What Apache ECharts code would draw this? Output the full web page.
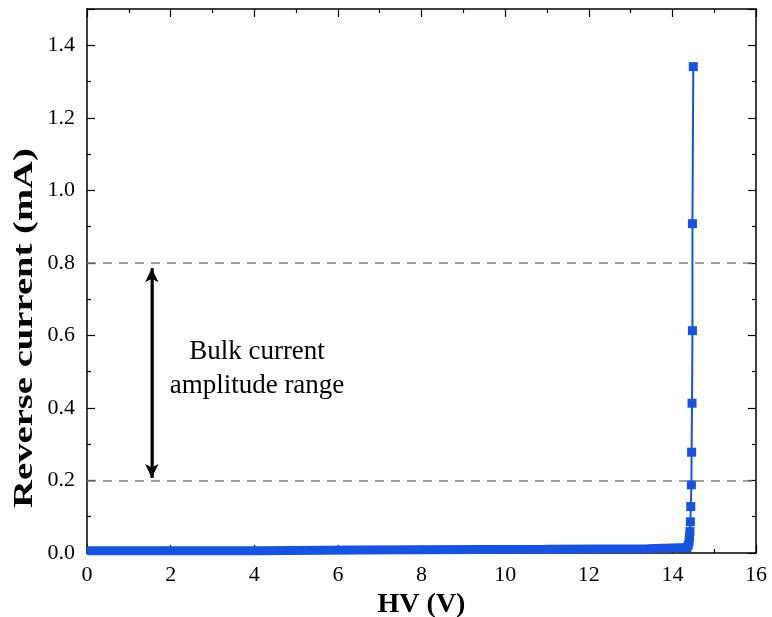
<!DOCTYPE html>
<html>
<head>
<meta charset="utf-8">
<script src="https://cdn.jsdelivr.net/npm/echarts@6/dist/echarts.min.js"></script>
<style>html,body{margin:0;padding:0;background:#fff}#c{width:772px;height:617px}</style>
</head>
<body>
<div id="c"></div>
<script>
// Flat leakage band (plateau breakpoints): voltage (V) and current (mA)
const bandHV      = [0,     4.14,  4.14,  6.46,  6.46,  10.95, 10.95, 13.4,  13.4,  14.35];
const bandCurrent = [0.006, 0.006, 0.008, 0.008, 0.010, 0.010, 0.012, 0.012, 0.014, 0.015];
// Breakdown rise points
const riseHV      = [14.35, 14.38, 14.40, 14.41, 14.42, 14.43, 14.44, 14.455, 14.46, 14.47, 14.48, 14.48, 14.50];
const riseCurrent = [0.015, 0.022, 0.032, 0.045, 0.059, 0.086, 0.128, 0.188, 0.278, 0.413, 0.613, 0.908, 1.341];
// Reference lines and annotation
const rangeLines = [0.2, 0.8];
const arrowHV = 1.55;
const arrowRange = [0.207, 0.785];
const xTicks = {min: 0, max: 16, interval: 2};
const yTicks = {min: 0, max: 1.5, interval: 0.2};
const xTitle = 'HV (V)';
const yTitle = 'Reverse current (mA)';
const noteText = 'Bulk current\namplitude range';

const blue = '#1753de';
const font = '"Liberation Serif", "Times New Roman", serif';

const chart = echarts.init(document.getElementById('c'), null, {renderer: 'canvas'});

function axisCommon(show) {
  return {
    axisLine: {show: true, onZero: false, lineStyle: {color: '#000', width: 1.5}},
    axisTick: {show: true, inside: true, length: 8, lineStyle: {color: '#000', width: 1.2}},
    minorTick: {show: true, splitNumber: 2, length: 4, lineStyle: {color: '#000', width: 1.2}},
    splitLine: {show: false},
    axisLabel: {show: show, color: '#000', fontFamily: font, fontSize: 22}
  };
}

const xMain = Object.assign({type: 'value', position: 'bottom', min: xTicks.min, max: xTicks.max, interval: xTicks.interval,
  name: xTitle, nameLocation: 'middle', nameGap: 34,
  nameTextStyle: {fontFamily: font, fontSize: 28, fontWeight: 'bold', color: '#000'}}, axisCommon(true));
xMain.axisLabel.margin = 11;
const yMain = Object.assign({type: 'value', position: 'left', min: yTicks.min, max: yTicks.max, interval: yTicks.interval}, axisCommon(true));
yMain.axisLabel.margin = 12;
yMain.axisLabel.showMaxLabel = false;
yMain.axisLabel.formatter = v => (Math.abs(Math.round(v / 0.2) * 0.2 - v) < 1e-6 ? v.toFixed(1) : '');

const option = {
  animation: false,
  backgroundColor: '#fff',
  grid: {left: 87, right: 16, top: 9, bottom: 64, containLabel: false, outerBoundsMode: 'none'},
  xAxis: [
    xMain,
    Object.assign({type: 'value', position: 'top', min: xTicks.min, max: xTicks.max, interval: xTicks.interval}, axisCommon(false))
  ],
  yAxis: [
    yMain,
    Object.assign({type: 'value', position: 'right', min: yTicks.min, max: yTicks.max, interval: yTicks.interval}, axisCommon(false))
  ],
  series: [
    {
      type: 'line',
      data: bandHV.map((v, i) => [v, bandCurrent[i]]),
      symbol: 'none',
      lineStyle: {color: blue, width: 9},
      z: 3,
      markLine: {
        silent: true,
        symbol: 'none',
        label: {show: false},
        lineStyle: {color: '#808080', type: [9, 7], width: 1.5},
        data: rangeLines.map(v => ({yAxis: v}))
      }
    },
    {
      type: 'line',
      data: riseHV.map((v, i) => [v, riseCurrent[i]]),
      symbol: 'rect',
      symbolSize: 9,
      showAllSymbol: true,
      itemStyle: {color: blue},
      lineStyle: {color: blue, width: 2},
      z: 4
    },
    {
      type: 'line',
      data: arrowRange.map(v => [arrowHV, v]),
      symbol: 'none',
      lineStyle: {color: '#000', width: 2.5},
      z: 5,
      markLine: {
        silent: true,
        symbol: ['arrow', 'arrow'],
        symbolSize: [10, 14],
        label: {show: false},
        lineStyle: {color: '#000', width: 2.5, type: 'solid'},
        data: [[{coord: [arrowHV, arrowRange[0]]}, {coord: [arrowHV, arrowRange[1]]}]]
      }
    }
  ],
  graphic: [
    {
      type: 'text',
      x: 257, y: 369,
      style: {
        text: noteText, fontFamily: font, fontSize: 27, fill: '#000',
        align: 'center', verticalAlign: 'middle', lineHeight: 34
      }
    },
    {
      type: 'text',
      x: 25, y: 328,
      rotation: Math.PI / 2,
      scaleX: 1.38,
      style: {
        text: yTitle, fontFamily: font, fontSize: 28, fontWeight: 'bold', fill: '#000',
        align: 'center', verticalAlign: 'middle'
      }
    }
  ]
};
chart.setOption(option);
</script>
</body>
</html>
